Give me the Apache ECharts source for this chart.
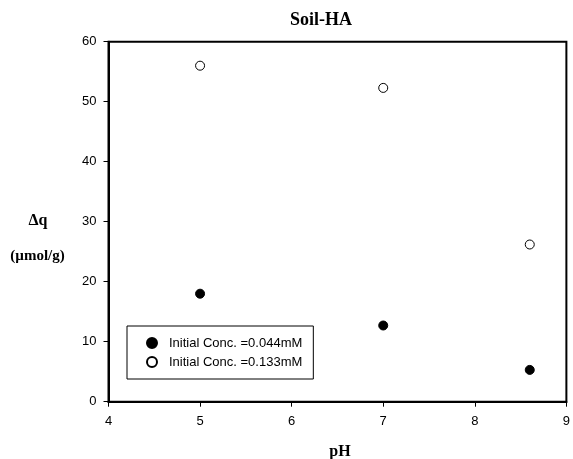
<!DOCTYPE html>
<html><head><meta charset="utf-8">
<script src="https://cdn.jsdelivr.net/npm/echarts@6/dist/echarts.min.js"></script>
<style>html,body{margin:0;padding:0;background:#fff;overflow:hidden}#c{width:573px;height:459px}</style>
</head><body><div id="c"></div>
<script>
var pH = [5, 7, 8.6];
var conc044 = [18.0, 12.7, 5.3];
var conc133 = [56.0, 52.3, 26.2];
var seriesNames = ['Initial Conc. =0.044mM', 'Initial Conc. =0.133mM'];
var xTicks = [4, 5, 6, 7, 8, 9];
var yTicks = [0, 10, 20, 30, 40, 50, 60];

var chart = echarts.init(document.getElementById('c'), null, {renderer: 'canvas', width: 573, height: 459});
var axisFont = {fontFamily: 'Liberation Sans, Arial, sans-serif', fontSize: 13, color: '#000'};
chart.setOption({
  animation: false,
  backgroundColor: '#fff',
  grid: {left: 108.5, right: 2, top: 41.7, bottom: 57.3, show: true, borderColor: '#000', borderWidth: 2},
  xAxis: {
    type: 'value', min: xTicks[0], max: xTicks[xTicks.length - 1], interval: 1,
    axisLine: {show: true, lineStyle: {color: '#000', width: 2}},
    axisTick: {show: true, inside: false, length: 5, lineStyle: {color: '#000', width: 1}},
    axisLabel: Object.assign({margin: 13}, axisFont),
    splitLine: {show: false}
  },
  yAxis: {
    type: 'value', min: yTicks[0], max: yTicks[yTicks.length - 1], interval: 10,
    axisLine: {show: true, lineStyle: {color: '#000', width: 2}},
    axisTick: {show: true, inside: false, length: 5, lineStyle: {color: '#000', width: 1}},
    axisLabel: Object.assign({margin: 12}, axisFont),
    splitLine: {show: false}
  },
  legend: {
    orient: 'vertical', left: 127, top: 326,
    padding: [10, 11, 10, 19],
    borderColor: '#000', borderWidth: 1,
    itemWidth: 10, itemHeight: 10, itemGap: 5,
    icon: 'circle',
    textStyle: {fontFamily: 'Liberation Sans, Arial, sans-serif', fontSize: 13, lineHeight: 14, color: '#000', padding: [0, 0, 0, 7]},
    data: seriesNames
  },
  series: [
    {name: seriesNames[0], type: 'scatter', symbol: 'circle', symbolSize: 9,
     itemStyle: {color: '#000', borderColor: '#000', borderWidth: 1, opacity: 1},
     data: pH.map(function (x, i) { return [x, conc044[i]]; })},
    {name: seriesNames[1], type: 'scatter', symbol: 'circle', symbolSize: 9,
     itemStyle: {color: '#fff', borderColor: '#000', borderWidth: 1, opacity: 1},
     data: pH.map(function (x, i) { return [x, conc133[i]]; })}
  ],
  graphic: [
    {type: 'text', left: 290, top: 11, style: {text: 'Soil-HA', font: 'bold 18px "Liberation Serif", "Times New Roman", serif', fill: '#000'}},
    {type: 'text', x: 38, y: 221, style: {text: 'Δq', font: 'bold 16px "Liberation Serif", "Times New Roman", serif', fill: '#000', align: 'center', verticalAlign: 'middle'}},
    {type: 'text', x: 37.5, y: 256, style: {text: '(µmol/g)', font: 'bold 15px "Liberation Serif", "Times New Roman", serif', fill: '#000', align: 'center', verticalAlign: 'middle'}},
    {type: 'text', x: 340, y: 452, style: {text: 'pH', font: 'bold 16px "Liberation Serif", "Times New Roman", serif', fill: '#000', align: 'center', verticalAlign: 'middle'}}
  ]
});
</script></body></html>
